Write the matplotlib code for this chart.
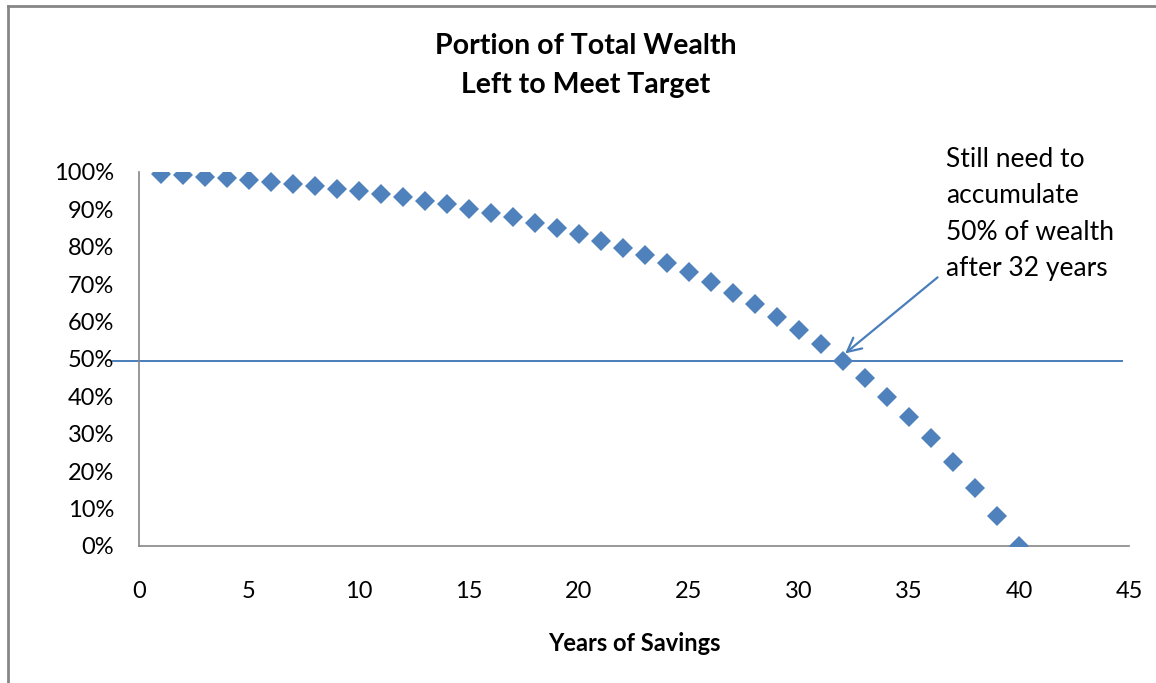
import matplotlib
matplotlib.use("Agg")
from matplotlib import pyplot as plt
from matplotlib.lines import Line2D
from matplotlib.ticker import PercentFormatter

plt.rcParams['font.family'] = ['Lato', 'DejaVu Sans']

# 数据: 每年剩余需要积累的财富比例
years = list(range(1, 41))
portion_left = [99.5, 99.2, 98.7, 98.3, 97.9, 97.3, 96.8, 96.2, 95.5, 94.8,
                94.1, 93.2, 92.3, 91.4, 90.2, 89.1, 87.9, 86.3, 84.9, 83.3,
                81.6, 79.8, 77.8, 75.6, 73.2, 70.6, 67.7, 64.6, 61.3, 57.8,
                53.9, 49.5, 45.0, 39.9, 34.6, 28.8, 22.4, 15.6, 8.1, 0.0]
target_line = [-1.18, 44.7]
target_level = 49.5
x_ticks = list(range(0, 50, 5))
y_ticks = list(range(0, 101, 10))

blue = "#4F81BD"
gray = "#868686"

fig = plt.figure(figsize=(11.56, 6.83), dpi=100)
ax = fig.add_axes([0.1202, 0.2006, 0.8564, 0.5476])

ax.plot(years, portion_left, linestyle="none", marker="D", markersize=10,
        color=blue, markeredgewidth=0, zorder=3)
ax.plot(target_line, [target_level, target_level], color="#4A7EBB", lw=1.4,
        clip_on=False, zorder=2)

ax.set_xlim(0, 45)
ax.set_ylim(0, 100)
ax.set_xticks(x_ticks)
ax.set_yticks(y_ticks)
ax.yaxis.set_major_formatter(PercentFormatter(decimals=0))
ax.tick_params(length=0, labelsize=17)
ax.tick_params(axis="y", pad=18)
ax.tick_params(axis="x", pad=25)
for s in ["top", "right"]:
    ax.spines[s].set_visible(False)
for s in ["left", "bottom"]:
    ax.spines[s].set_color(gray)
    ax.spines[s].set_linewidth(1.2)

ax.set_xlabel("Years of Savings", fontsize=17, fontweight="bold", labelpad=22)

fig.text(0.507, 1 - 65.5 / 683, "Portion of Total Wealth\nLeft to Meet Target",
         ha="center", va="center", fontsize=20.5, fontweight="bold",
         linespacing=1.65)

# 注释文字和箭头
fig.text(946 / 1156, 1 - 147 / 683,
         "Still need to\naccumulate\n50% of wealth\nafter 32 years",
         ha="left", va="top", fontsize=19, linespacing=1.57)
ax.annotate("", xy=(32.0, 51.0), xytext=(36.4, 72.3),
            arrowprops=dict(arrowstyle="->,head_length=1.0,head_width=0.5",
                            color="#4A7EBB", lw=1.6))

# 图表外框
fig.add_artist(Line2D([7.5 / 1156, 1], [1 - 5.5 / 683] * 2,
                      color=gray, lw=2, transform=fig.transFigure))
fig.add_artist(Line2D([7.5 / 1156] * 2, [0, 1 - 5.5 / 683],
                      color=gray, lw=2, transform=fig.transFigure))

fig.savefig("out.png", dpi=100)
